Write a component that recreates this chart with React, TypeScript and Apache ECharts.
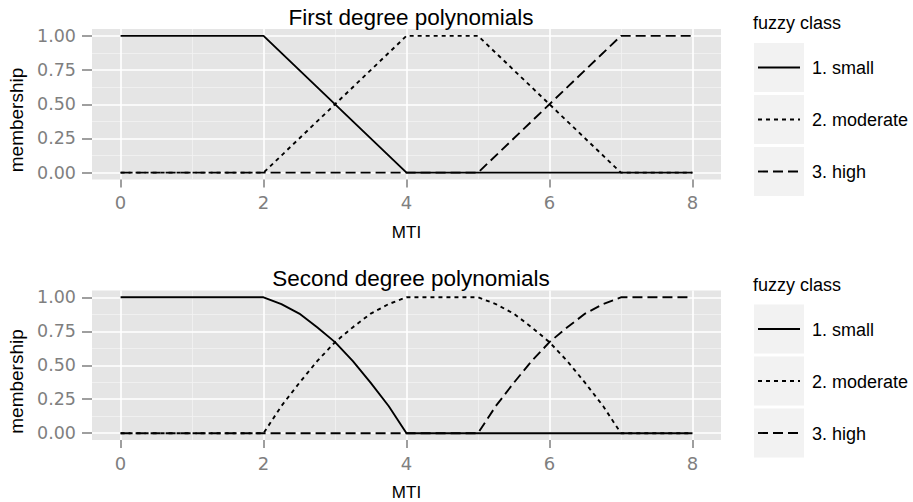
import React, { useEffect, useRef } from "react";
import * as echarts from "echarts";

const panelTitles = ["First degree polynomials", "Second degree polynomials"];
const classNames = ["1. small", "2. moderate", "3. high"];
const xTicks = [0, 2, 4, 6, 8];
const xMinor = [1, 3, 5, 7];
const yTicks = [0, 0.25, 0.5, 0.75, 1];
const yMinor = [0.125, 0.375, 0.625, 0.875];

const firstSmall = [[0, 1], [2, 1], [4, 0], [8, 0]];
const firstModerate = [[0, 0], [2, 0], [4, 1], [5, 1], [7, 0], [8, 0]];
const firstHigh = [[0, 0], [5, 0], [7, 1], [8, 1]];

const secondSmall = [
  [0, 1], [2, 1], [2.25, 0.95], [2.5, 0.88], [2.75, 0.78], [3, 0.67],
  [3.25, 0.53], [3.5, 0.37], [3.75, 0.2], [4, 0], [8, 0],
];
const secondModerate = [
  [0, 0], [2, 0], [2.25, 0.2], [2.5, 0.37], [2.75, 0.53], [3, 0.67],
  [3.25, 0.78], [3.5, 0.88], [3.75, 0.95], [4, 1], [5, 1], [5.25, 0.95],
  [5.5, 0.88], [5.75, 0.78], [6, 0.67], [6.25, 0.53], [6.5, 0.37],
  [6.75, 0.2], [7, 0], [8, 0],
];
const secondHigh = [
  [0, 0], [5, 0], [5.25, 0.2], [5.5, 0.37], [5.75, 0.53], [6, 0.67],
  [6.25, 0.78], [6.5, 0.88], [6.75, 0.95], [7, 1], [8, 1],
];

const panelData = [
  [firstSmall, firstModerate, firstHigh],
  [secondSmall, secondModerate, secondHigh],
];

const dashTypes: any[] = ["solid", [4, 4], [10, 5]];

const gridTops = [29, 290.5];
const gridHeight = 150.5;
const gridLeft = 92;
const gridRight = 192;

export default function App() {
  const ref = useRef<HTMLDivElement>(null);
  useEffect(() => {
    if (!ref.current) return;
    const chart = echarts.init(ref.current, undefined, { renderer: "svg" });
    const font = "Liberation Sans";
    const tickFont = "DejaVu Sans";

    const grids = gridTops.map((t) => ({
      left: gridLeft,
      right: gridRight,
      top: t,
      height: gridHeight,
      show: true,
      backgroundColor: "#e5e5e5",
      borderWidth: 0,
      containLabel: false,
    }));

    const xAxes: any[] = [];
    const yAxes: any[] = [];
    gridTops.forEach((_, gi) => {
      xAxes.push({
        type: "value",
        gridIndex: gi,
        min: -0.4,
        max: 8.4,
        name: "MTI",
        nameLocation: "middle",
        nameGap: 44,
        nameTextStyle: { color: "#000", fontSize: 17, fontFamily: font },
        axisLine: { show: false, onZero: false },
        axisTick: { show: true, length: 8, customValues: xTicks, lineStyle: { color: "#7f7f7f", width: 1.5 } },
        axisLabel: { show: true, customValues: xTicks, margin: 14, color: "#7f7f7f", fontSize: 18, fontFamily: tickFont },
        splitLine: { show: true, lineStyle: { color: "#ffffff", width: 1.6 } },
        z: 2,
      });
      xAxes.push({
        type: "value",
        gridIndex: gi,
        min: -0.4,
        max: 8.4,
        position: "bottom",
        axisLine: { show: false, onZero: false },
        axisTick: { show: false, customValues: xMinor },
        axisLabel: { show: false, customValues: xMinor },
        splitLine: { show: true, lineStyle: { color: "#f2f2f2", width: 0.8 } },
        z: 1,
      });
      yAxes.push({
        type: "value",
        gridIndex: gi,
        min: -0.05,
        max: 1.05,
        axisLine: { show: false, onZero: false },
        axisTick: { show: true, length: 10, customValues: yTicks, lineStyle: { color: "#7f7f7f", width: 1.5 } },
        axisLabel: {
          show: true,
          customValues: yTicks,
          margin: 16,
          color: "#7f7f7f",
          fontSize: 17.5,
          fontFamily: tickFont,
          formatter: (v: number) => v.toFixed(2),
        },
        splitLine: { show: true, lineStyle: { color: "#ffffff", width: 1.6 } },
        z: 2,
      });
      yAxes.push({
        type: "value",
        gridIndex: gi,
        min: -0.05,
        max: 1.05,
        position: "left",
        axisLine: { show: false, onZero: false },
        axisTick: { show: false, customValues: yMinor },
        axisLabel: { show: false, customValues: yMinor },
        splitLine: { show: true, lineStyle: { color: "#f2f2f2", width: 0.8 } },
        z: 1,
      });
    });

    const series: any[] = [];
    panelData.forEach((sets, gi) => {
      sets.forEach((d, si) => {
        series.push({
          type: "line",
          name: classNames[si],
          xAxisIndex: gi * 2,
          yAxisIndex: gi * 2,
          data: d,
          symbol: "none",
          showSymbol: false,
          silent: true,
          z: 5 + si,
          lineStyle: { color: "#000", width: 1.9, type: dashTypes[si] },
        });
      });
    });

    const graphics: any[] = [];
    gridTops.forEach((t, gi) => {
      graphics.push({
        type: "text",
        x: 411,
        y: t - 12,
        style: {
          text: panelTitles[gi],
          fill: "#000",
          fontSize: 22.5,
          fontFamily: font,
          align: "center",
          verticalAlign: "middle",
        },
      });
      graphics.push({
        type: "text",
        x: 16,
        y: t + 91,
        rotation: Math.PI / 2,
        style: {
          text: "membership",
          fill: "#000",
          fontSize: 19,
          fontFamily: font,
          align: "center",
          verticalAlign: "middle",
        },
      });
      const legTop = t - 6;
      graphics.push({
        type: "text",
        x: 753,
        y: legTop,
        style: { text: "fuzzy class", fill: "#000", fontSize: 18, fontFamily: font, align: "left", verticalAlign: "middle" },
      });
      classNames.forEach((name, si) => {
        const by = t + 14 + si * 52;
        graphics.push({
          type: "rect",
          shape: { x: 754, y: by, width: 50, height: 49 },
          style: { fill: "#f2f2f2" },
        });
        graphics.push({
          type: "line",
          shape: { x1: 758, y1: by + 24.5, x2: 800, y2: by + 24.5 },
          style: {
            stroke: "#000",
            lineWidth: 1.9,
            lineDash: dashTypes[si] === "solid" ? null : dashTypes[si],
          },
        });
        graphics.push({
          type: "text",
          x: 812,
          y: by + 25,
          style: { text: name, fill: "#000", fontSize: 18, fontFamily: font, align: "left", verticalAlign: "middle" },
        });
      });
    });

    chart.setOption({
      animation: false,
      backgroundColor: "#ffffff",
      textStyle: { fontFamily: font },
      grid: grids,
      xAxis: xAxes,
      yAxis: yAxes,
      series,
      graphic: graphics,
    });
    return () => chart.dispose();
  }, []);
  return (
    <div
      ref={ref}
      style={{ position: "fixed", left: 0, top: 0, width: 913, height: 502 }}
    />
  );
}
